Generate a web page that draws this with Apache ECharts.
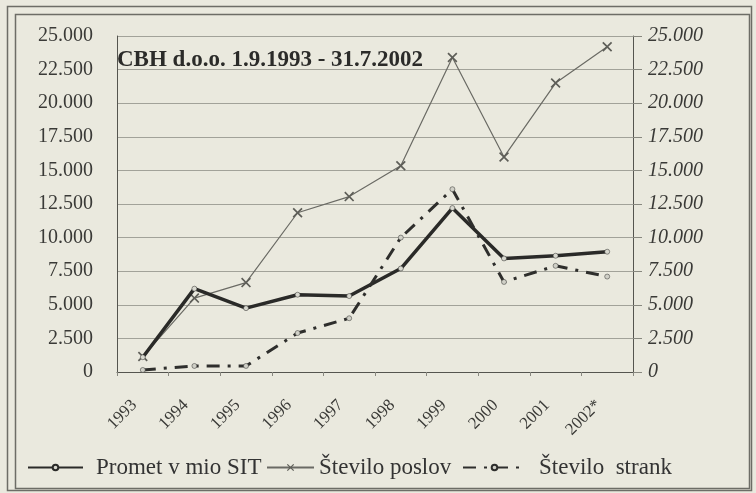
<!DOCTYPE html>
<html><head><meta charset="utf-8">
<script src="https://cdn.jsdelivr.net/npm/echarts@6/dist/echarts.min.js"></script>
<style>html,body{margin:0;padding:0;background:#eae9de}#c{width:756px;height:493px}</style>
</head><body><div id="c"></div>
<script>
const categories = ['1993','1994','1995','1996','1997','1998','1999','2000','2001','2002*'];
const prometValues = [1100, 6200, 4750, 5750, 5650, 7700, 12200, 8450, 8650, 8950];
const posloviValues = [1150, 5500, 6650, 11850, 13050, 15350, 23400, 16000, 21500, 24200];
const strankeValues = [150, 450, 450, 2900, 4000, 10000, 13600, 6700, 7900, 7100];
const seriesNames = ['Promet v mio SIT', 'Število poslov', 'Število  strank'];
const titleText = 'CBH d.o.o. 1.9.1993 - 31.7.2002';

const serif = "'Liberation Serif','Times New Roman',serif";
const fmt = v => String(v).replace(/\B(?=(\d{3})+(?!\d))/g, '.');
const xPath = 'path://M0,1.2L1.2,0L5,3.8L8.8,0L10,1.2L6.2,5L10,8.8L8.8,10L5,6.2L1.2,10L0,8.8L3.8,5Z';

const chart = echarts.init(document.getElementById('c'), null, {renderer: 'canvas'});
chart.setOption({
  animation: false,
  backgroundColor: '#eae9de',
  title: {
    text: titleText, left: 112, top: 44,
    textStyle: {fontFamily: serif, fontWeight: 'bold', fontSize: 23, color: '#2b2b29'}
  },
  graphic: [
    {type: 'rect', shape: {x: 7.5, y: 6.5, width: 744, height: 484}, style: {fill: 'none', stroke: '#6d6d66', lineWidth: 1.5}},
    {type: 'rect', shape: {x: 15.5, y: 14.5, width: 734, height: 474}, style: {fill: 'none', stroke: '#6d6d66', lineWidth: 1.5}}
  ],
  grid: {left: 117, right: 123, top: 36, bottom: 121, containLabel: false},
  legend: [
    {data: [seriesNames[0]], left: 22, top: 451, itemWidth: 55, itemHeight: 7,
     textStyle: {fontFamily: serif, fontSize: 23, color: '#333', padding: [0, 0, 0, 8]}},
    {data: [seriesNames[1]], left: 261, top: 451, itemWidth: 47, itemHeight: 9,
     textStyle: {fontFamily: serif, fontSize: 23, color: '#333', padding: [0, 0, 0, 0]}},
    {data: [seriesNames[2]], left: 457, top: 451, itemWidth: 63, itemHeight: 7,
     textStyle: {fontFamily: serif, fontSize: 23, color: '#333', padding: [0, 0, 0, 8]}}
  ],
  xAxis: {
    type: 'category', data: categories, boundaryGap: true,
    axisLine: {lineStyle: {color: '#55554f', width: 1}},
    axisTick: {show: true, length: 4, lineStyle: {color: '#88887f'}},
    axisLabel: {rotate: 45, margin: 22, padding: [0, 12, 0, 0], fontFamily: serif, fontSize: 17, color: '#3a3a37', interval: 0}
  },
  yAxis: [
    {type: 'value', min: 0, max: 25000, interval: 2500,
     axisLine: {show: true, lineStyle: {color: '#55554f'}},
     axisTick: {show: false},
     splitLine: {lineStyle: {color: '#a2a299', width: 1}},
     axisLabel: {margin: 24, fontFamily: serif, fontSize: 20, color: '#3a3a37', formatter: fmt}},
    {type: 'value', min: 0, max: 25000, interval: 2500, position: 'right',
     axisLine: {show: true, lineStyle: {color: '#55554f'}},
     axisTick: {show: true, length: 9, lineStyle: {color: '#88887f'}},
     splitLine: {show: false},
     axisLabel: {margin: 15, fontFamily: serif, fontSize: 20, fontStyle: 'italic', color: '#3a3a37', formatter: fmt}}
  ],
  series: [
    {name: seriesNames[1], type: 'line', data: posloviValues, yAxisIndex: 0,
     symbol: xPath, symbolSize: 10, z: 2,
     lineStyle: {color: '#6a6a64', width: 1.2}, itemStyle: {color: '#5e5e58'}},
    {name: seriesNames[0], type: 'line', data: prometValues, yAxisIndex: 0,
     symbol: 'circle', symbolSize: 5, z: 3,
     lineStyle: {color: '#2a2a28', width: 3.5}, itemStyle: {color: '#d8d8cf', borderColor: '#2a2a28', borderWidth: 0.5}},
    {name: seriesNames[2], type: 'line', data: strankeValues, yAxisIndex: 1,
     symbol: 'circle', symbolSize: 5, z: 3,
     lineStyle: {color: '#2e2e2c', width: 3, type: [13, 8, 3, 8]}, itemStyle: {color: '#d0d0c7', borderColor: '#2e2e2c', borderWidth: 0.5}}
  ]
});
</script></body></html>
